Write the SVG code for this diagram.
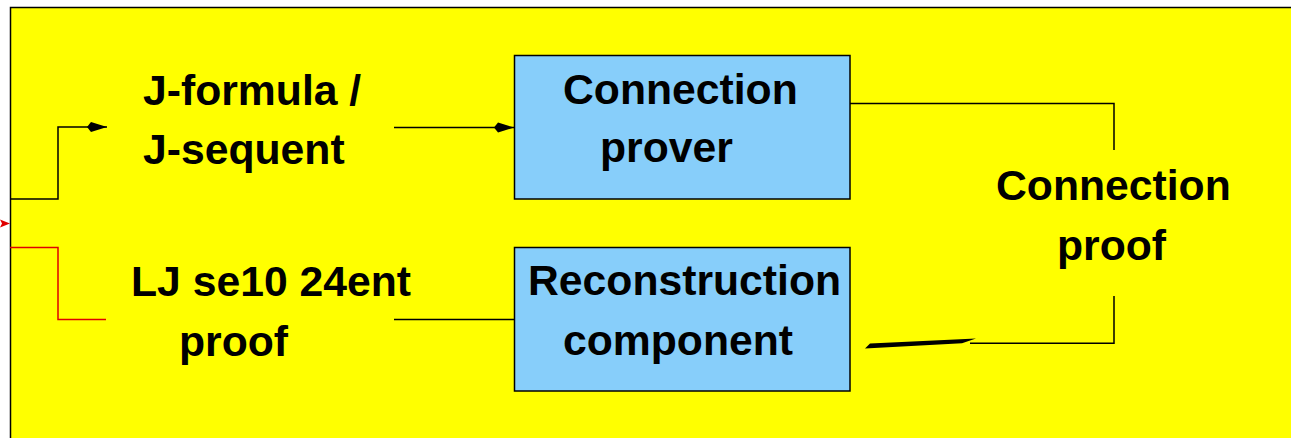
<svg xmlns="http://www.w3.org/2000/svg" width="1291" height="438" viewBox="0 0 1291 438">
  <style>
    .lbl { font-family: "Liberation Sans", Arial, sans-serif; font-weight: bold; font-size: 42.7px; fill: #000; }
    .box { fill: #87cefa; stroke: #000; stroke-width: 1.5; }
    .wire { fill: none; stroke: #000; stroke-width: 1.5; }
    .wire-red { fill: none; stroke: #e00000; stroke-width: 1.5; }
  </style>
  <defs>
    <marker id="arrow" viewBox="0 0 20 12" refX="20" refY="6" markerWidth="20" markerHeight="12" markerUnits="userSpaceOnUse" orient="auto">
      <path d="M0,6 L4,1 L20,6 L4,11 Z" fill="#000"/>
    </marker>
  </defs>

  <!-- white page and yellow panel -->
  <rect x="0" y="0" width="1291" height="438" fill="#fff"/>
  <rect x="10.5" y="7.5" width="1300" height="440" fill="#ffff00" stroke="#000" stroke-width="1.5"/>

  <!-- incoming red arrow at the panel edge -->
  <path d="M0,219.5 L10,223.5 L0,227.5 L2,223.5 Z" fill="#e00000"/>

  <g id="connectors">
    <polyline class="wire" points="10,199 58,199 58,127 107,127" marker-end="url(#arrow)"/>
    <polyline class="wire-red" points="10,247.5 58,247.5 58,319.5 106,319.5"/>
    <polyline class="wire" points="394,127.5 514,127.5" marker-end="url(#arrow)"/>
    <polyline class="wire" points="394,319.5 514,319.5"/>
    <polyline class="wire" points="850,103.5 1114,103.5 1114,150"/>
    <polyline class="wire" points="1114,296 1114,343.3 970,343.3"/>
    <path d="M865,348.5 L870,343.5 L976,338.5 L962,343.2 Z" fill="#000"/>
  </g>

  <g id="node-jformula">
    <text class="lbl" x="143" y="105">J-formula /</text>
    <text class="lbl" x="143" y="164">J-sequent</text>
  </g>

  <g id="node-ljproof">
    <text class="lbl" x="131" y="296">LJ se10 24ent</text>
    <text class="lbl" x="179" y="356">proof</text>
  </g>

  <g id="node-prover">
    <rect class="box" x="514.5" y="55.5" width="335.5" height="143.5"/>
    <text class="lbl" x="563" y="104">Connection</text>
    <text class="lbl" x="600" y="162">prover</text>
  </g>

  <g id="node-reconstruction">
    <rect class="box" x="514.5" y="247.5" width="335.5" height="143.5"/>
    <text class="lbl" x="528" y="295">Reconstruction</text>
    <text class="lbl" x="563" y="355">component</text>
  </g>

  <g id="node-connection-proof">
    <text class="lbl" x="996" y="200">Connection</text>
    <text class="lbl" x="1057" y="260">proof</text>
  </g>
</svg>
